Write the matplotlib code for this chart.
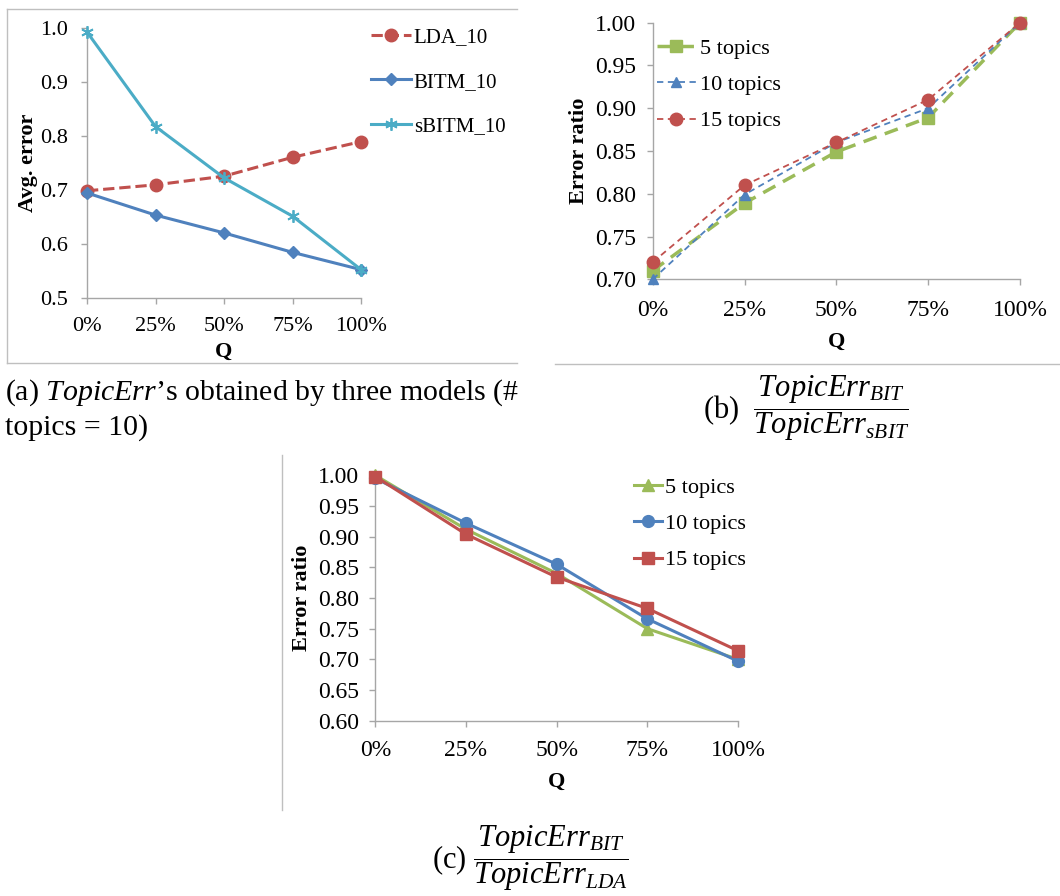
import numpy as np
import matplotlib
matplotlib.use('Agg')
import matplotlib.pyplot as plt
from matplotlib.ticker import FormatStrFormatter
from matplotlib.lines import Line2D

plt.rcParams['font.family'] = ['Liberation Serif', 'DejaVu Serif']
plt.rcParams['mathtext.fontset'] = 'custom'
plt.rcParams['mathtext.rm'] = 'Liberation Serif'
plt.rcParams['mathtext.it'] = 'Liberation Serif:italic'
plt.rcParams['mathtext.bf'] = 'Liberation Serif:bold'

#---------------------- DATA
q_labels = ['0%', '25%', '50%', '75%', '100%']

# (a) average error, 10 topics
lda_10   = [0.698, 0.709, 0.725, 0.760, 0.789]
bitm_10  = [0.694, 0.653, 0.620, 0.584, 0.552]
sbitm_10 = [0.992, 0.817, 0.722, 0.651, 0.552]

# (b) TopicErr_BIT / TopicErr_sBIT
b_5  = [0.710, 0.789, 0.849, 0.889, 1.000]
b_10 = [0.700, 0.799, 0.860, 0.900, 1.000]
b_15 = [0.720, 0.810, 0.860, 0.910, 1.000]

# (c) TopicErr_BIT / TopicErr_LDA
c_5  = [1.000, 0.912, 0.840, 0.750, 0.700]
c_10 = [0.995, 0.922, 0.855, 0.766, 0.697]
c_15 = [0.998, 0.904, 0.834, 0.783, 0.714]

#---------------------- STYLE
RED   = '#C0504D'
BLUE  = '#4F81BD'
GREEN = '#9BBB59'
AQUA  = '#4BACC6'
AXC   = '#A6A6A6'
FS    = 16

W, H = 1060, 896
fig = plt.figure(figsize=(W/100, H/100), dpi=100)
x = np.arange(len(q_labels))

def px(l, t, r, b):
    return [l/W, 1-b/H, (r-l)/W, (b-t)/H]

def style(ax, ylim, yticks, fmt, xpad, ypad, fs=FS, qpad=6):
    ax.set_xlim(0, 4)
    ax.set_ylim(*ylim)
    ax.set_yticks(yticks)
    ax.yaxis.set_major_formatter(FormatStrFormatter(fmt))
    ax.set_xticks(x)
    ax.set_xticklabels(q_labels)
    for s in ['top', 'right']:
        ax.spines[s].set_visible(False)
    for s in ['left', 'bottom']:
        ax.spines[s].set_color(AXC)
        ax.spines[s].set_linewidth(1.0)
    ax.tick_params(axis='both', direction='out', length=4, width=1.0, color=AXC, labelsize=fs)
    ax.tick_params(axis='x', pad=xpad)
    ax.tick_params(axis='y', pad=ypad)
    ax.set_xlabel('Q', fontsize=FS, fontweight='bold', labelpad=qpad)

##------ (a)
ax = fig.add_axes(px(87, 27.7, 361, 297.7))
ax.plot(x, lda_10, color=RED, lw=2.2, ls='--', marker='o', ms=9, clip_on=False, label='LDA_10', zorder=3)
ax.plot(x, bitm_10, color=BLUE, lw=2.2, marker='D', ms=6.5, clip_on=False, label='BITM_10', zorder=3)
ax.plot(x, sbitm_10, color=AQUA, lw=2.2, marker=(6, 2, 0), ms=9, mew=1.3, clip_on=False, label='sBITM_10', zorder=3)
style(ax, (0.5, 1.0), np.arange(0.5, 1.01, 0.1), '%.1f', 10, 10, qpad=4)
ax.set_ylabel('Avg. error', fontsize=FS, fontweight='bold', labelpad=1)
ax.legend(loc='center left', bbox_to_anchor=(371/W, 1-82/H), bbox_transform=fig.transFigure,
          frameon=False, fontsize=15, handlelength=1.9, handletextpad=0.15, labelspacing=1.2,
          borderpad=0, borderaxespad=0, numpoints=1)

##------ (b)
ax = fig.add_axes(px(652.7, 22.7, 1020, 279.3))
ax.plot(x, b_5, color=GREEN, lw=2.5, dashes=(4, 2.5), marker='s', ms=8.5, clip_on=False, label='5 topics', zorder=3)
ax.plot(x, b_10, color=BLUE, lw=1.3, dashes=(3.5, 2.5), marker='^', ms=7.5, clip_on=False, label='10 topics', zorder=3)
ax.plot(x, b_15, color=RED, lw=1.3, dashes=(3.5, 2.5), marker='o', ms=9, clip_on=False, label='15 topics', zorder=3)
style(ax, (0.7, 1.0), np.arange(0.70, 1.001, 0.05), '%.2f', 11, 8, fs=17, qpad=8)
ax.set_ylabel('Error ratio', fontsize=FS, fontweight='bold', labelpad=4)
ax.legend(loc='center left', bbox_to_anchor=(657/W, 1-85/H), bbox_transform=fig.transFigure,
          frameon=False, fontsize=FS, handlelength=1.75, handletextpad=0.2, labelspacing=0.7,
          borderpad=0, borderaxespad=0, numpoints=1)

##------ (c)
ax = fig.add_axes(px(375.3, 475.3, 738, 720.7))
ax.plot(x, c_5, color=GREEN, lw=2.2, marker='^', ms=8.5, clip_on=False, label='5 topics', zorder=3)
ax.plot(x, c_10, color=BLUE, lw=2.2, marker='o', ms=8.5, clip_on=False, label='10 topics', zorder=3)
ax.plot(x, c_15, color=RED, lw=2.2, marker='s', ms=8.5, clip_on=False, label='15 topics', zorder=3)
style(ax, (0.6, 1.0), np.arange(0.60, 1.001, 0.05), '%.2f', 10, 8, fs=17, qpad=8)
ax.set_ylabel('Error ratio', fontsize=FS, fontweight='bold', labelpad=4)
ax.legend(loc='center left', bbox_to_anchor=(634/W, 1-524/H), bbox_transform=fig.transFigure,
          frameon=False, fontsize=FS, handlelength=1.25, handletextpad=0.15, labelspacing=0.7,
          borderpad=0, borderaxespad=0, numpoints=1)

##------ frames around the panels
frame = dict(color='#BFBFBF', lw=1.0, transform=fig.transFigure)
fig.add_artist(Line2D([7/W, 517/W], [1-9/H, 1-9/H], **frame))
fig.add_artist(Line2D([7/W, 7/W], [1-9/H, 1-363/H], **frame))
fig.add_artist(Line2D([7/W, 517/W], [1-363/H, 1-363/H], **frame))
fig.add_artist(Line2D([555/W, 1060/W], [1-364/H, 1-364/H], **frame))
fig.add_artist(Line2D([282/W, 282/W], [1-455/H, 1-810/H], **frame))

##------ captions
fig.text(5/W, 1-393/H, '(a) $TopicErr$\u2019s obtained by three models (#', fontsize=21.5, va='center', ha='left')
fig.text(5/W, 1-428/H, 'topics = 10)', fontsize=21.5, va='center', ha='left')
fig.text(703/W, 1-408/H, r'(b)  $\dfrac{TopicErr_{BIT}}{TopicErr_{sBIT}}$', fontsize=22, va='center', ha='left')
fig.text(432/W, 1-858/H, r'(c) $\dfrac{TopicErr_{BIT}}{TopicErr_{LDA}}$', fontsize=22, va='center', ha='left')

fig.savefig('out.png', dpi=100)
